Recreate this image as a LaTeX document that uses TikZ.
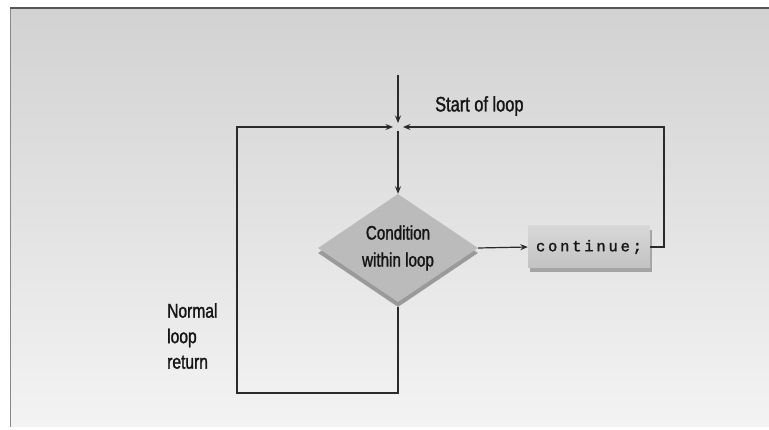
\documentclass[tikz,border=0pt]{standalone}
\usepackage{fontspec}
\setmainfont{Liberation Sans}[FakeStretch=0.78, FakeBold=1.3]
\newfontfamily\codefont{Liberation Mono}[LetterSpace=18, FakeBold=1.6]
\usetikzlibrary{arrows.meta,shapes.geometric,shadows}
\definecolor{bgtop}{HTML}{D2D2D2}
\definecolor{bgbot}{HTML}{F3F3F3}
\definecolor{linec}{HTML}{2A2A2A}
\definecolor{edgec}{HTML}{888888}
\definecolor{txtc}{HTML}{151515}
\definecolor{facec}{HTML}{BBBBBB}
\definecolor{slabc}{HTML}{9A9A9A}
\definecolor{boxtop}{HTML}{D8D8D8}
\definecolor{boxbot}{HTML}{C2C2C2}
\definecolor{boxslab}{HTML}{A4A4A4}
\begin{document}
\begin{tikzpicture}[x=1pt,y=-1pt,
  line/.style={draw=linec, line width=1.2pt},
  arr/.style={line, -{Stealth[length=7.5pt,width=6pt,inset=2.5pt]}},
  lbl/.style={text=txtc, font=\fontsize{20}{25.5}\selectfont, align=left, inner sep=0pt},
  decision/.style={diamond, fill=facec, draw=none, inner sep=0pt,
    minimum width=160pt, minimum height=108pt, shape aspect=1.45,
    text=txtc, align=center, font=\fontsize{19.5}{27}\selectfont,
    drop shadow={shadow xshift=0pt, shadow yshift=-5pt, fill=slabc, opacity=1}},
  codebox/.style={rectangle, top color=boxtop, bottom color=boxbot, draw=none,
    minimum width=122pt, minimum height=42pt, inner sep=0pt, text=txtc,
    font=\codefont\fontsize{15.5}{16}\selectfont,
    drop shadow={shadow xshift=2pt, shadow yshift=-4pt, fill=boxslab, opacity=1}}
]
\useasboundingbox (0,0) rectangle (769,430);
\fill[white] (0,0) rectangle (769,430);
\shade[top color=bgtop, bottom color=bgbot] (10,8) rectangle (769,427);
\draw[draw=edgec, line width=1pt] (10,427) -- (10,8);
\draw[draw=linec!80, line width=1.5pt] (10,8) -- (769,8);

% nodes
\node[decision] (cond) at (398,248) {Condition\\within loop};
\node[codebox] (cont) at (589,247) {continue;};
\node[lbl, anchor=west, font=\fontsize{21}{25}\selectfont] (startlbl) at (435,106) {Start of loop};
\node[lbl, anchor=west] (normlbl) at (167,336) {Normal\\loop\\return};

% coordinates
\coordinate (start) at (398,75);
\coordinate (merge) at (398,127);
\coordinate (tl) at (237,127);
\coordinate (bl) at (237,393);
\coordinate (br) at (398,393);
\coordinate (tr) at (664,127);

% connectors
\draw[arr, shorten >=4pt] (start) -- (merge);
\draw[arr, shorten <=5pt, shorten >=5pt] (cond.south) -- (br) -- (bl) -- (tl) -- (merge);
\draw[arr, shorten >=5pt] (cont.east) -| (tr) -- (merge);
\draw[arr, shorten <=4pt] (merge) -- (cond.north);
\draw[arr] (cond.east) -- (cont.west);
\end{tikzpicture}
\end{document}
